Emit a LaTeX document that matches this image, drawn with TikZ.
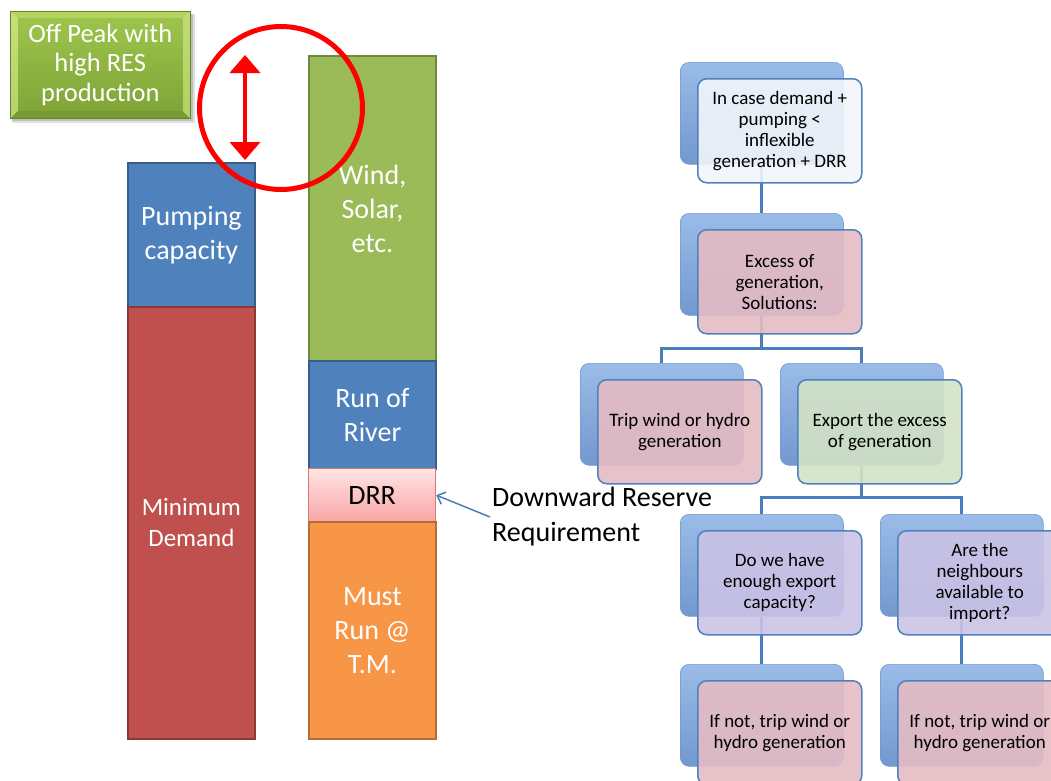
\documentclass[tikz,border=0pt]{standalone}
\usepackage{fontspec}
\setmainfont{Carlito}
\usetikzlibrary{arrows.meta,calc}
\pgfdeclarelayer{background}
\pgfsetlayers{background,main}

% bar colours
\definecolor{blueF}{HTML}{4F81BD}
\definecolor{blueD}{HTML}{385D8A}
\definecolor{redF}{HTML}{C0504D}
\definecolor{redD}{HTML}{8C3836}
\definecolor{greenF}{HTML}{9BBB59}
\definecolor{greenD}{HTML}{71893F}
\definecolor{orangeF}{HTML}{F79646}
\definecolor{orangeD}{HTML}{B66D31}
\definecolor{drrTop}{HTML}{FFE4E4}
\definecolor{drrBot}{HTML}{F9A6A6}
\definecolor{drrLine}{HTML}{DC7777}
% label box bevel
\definecolor{opTopBand}{HTML}{B3D45E}
\definecolor{opLeftBand}{HTML}{C6E07A}
\definecolor{opRightBand}{HTML}{C0DC72}
\definecolor{opBotBand}{HTML}{789A32}
\definecolor{opInTop}{HTML}{9CC44C}
\definecolor{opInBot}{HTML}{80A638}
% flow chart
\definecolor{bkTop}{HTML}{9ABCE8}
\definecolor{bkBot}{HTML}{7398CE}
\definecolor{bkLine}{HTML}{7398CE}
\definecolor{frLine}{HTML}{4F81BD}
\definecolor{lnk}{HTML}{4A7EBB}
\definecolor{fWhite}{HTML}{F2F6FB}
\definecolor{fPink}{HTML}{E5BBC3}
\definecolor{fGreen}{HTML}{D3E2C6}
\definecolor{fLav}{HTML}{CBC3E6}
\definecolor{ringRed}{HTML}{FF0000}

\begin{document}
\begin{tikzpicture}[x=1pt,y=-1pt,
  bar/.style={draw, line width=1.8pt, minimum width=127pt, anchor=north west,
    inner sep=0pt, align=center, text=white, font=\fontsize{28}{34}\selectfont},
  backbox/.style={rounded corners=9pt, minimum width=163pt, minimum height=102pt,
    anchor=north west, inner sep=0pt, top color=bkTop, bottom color=bkBot,
    draw=bkLine, line width=0.6pt},
  frontbox/.style={rounded corners=9pt, minimum width=164pt, minimum height=104pt,
    anchor=north west, inner sep=2pt, draw=frLine, line width=1.5pt,
    fill opacity=0.9, text opacity=1, align=center,
    font=\fontsize{19}{21}\selectfont, text=black},
  link/.style={draw=lnk, line width=3pt},
]
\useasboundingbox (0,0) rectangle (1051,780);

% ---- label box with bevel and shadow
\fill[black, opacity=0.12] (12,14) rectangle (195,123);
\fill[black, opacity=0.15] (12,14) rectangle (193,121);
\node[anchor=north west, minimum width=180pt, minimum height=107pt, inner sep=0pt,
  draw=opBotBand!85!black, line width=0.6pt,
  path picture={
    \coordinate (pA) at (path picture bounding box.north west);
    \coordinate (pB) at (path picture bounding box.north east);
    \coordinate (pC) at (path picture bounding box.south east);
    \coordinate (pD) at (path picture bounding box.south west);
    \coordinate (qA) at ($(pA)+(8pt,-7pt)$);
    \coordinate (qB) at ($(pB)+(-8pt,-7pt)$);
    \coordinate (qC) at ($(pC)+(-8pt,8pt)$);
    \coordinate (qD) at ($(pD)+(8pt,8pt)$);
    \fill[opTopBand] (pA) -- (pB) -- (qB) -- (qA) -- cycle;
    \fill[opBotBand] (pD) -- (pC) -- (qC) -- (qD) -- cycle;
    \shade[top color=opLeftBand, bottom color=opLeftBand!80!opBotBand]
      (pA) -- (qA) -- (qD) -- (pD) -- cycle;
    \shade[top color=opRightBand, bottom color=opRightBand!80!opBotBand]
      (pB) -- (qB) -- (qC) -- (pC) -- cycle;
    \shade[top color=opInTop, bottom color=opInBot] (qA) rectangle (qC);
  },
  align=center, text=white, font=\fontsize{26.5}{29.5}\selectfont]
  (offpk) at (10,11) {Off Peak with\\high RES\\production};

% ---- left bar
\node[bar, fill=blueF, draw=blueD, minimum height=144pt] (pump) at (127,162) {Pumping\\capacity};
\node[bar, fill=redF, draw=redD, minimum height=432pt,
  font=\fontsize{25}{31}\selectfont] (mindem) at (127,306) {Minimum\\Demand};

% ---- right bar
\node[bar, fill=greenF, draw=greenD, minimum height=305pt] (wind) at (308,55) {Wind,\\Solar,\\etc.};
\node[bar, fill=blueF, draw=blueD, minimum height=108pt] (ror) at (308,360) {Run of\\River};
\node[bar, top color=drrTop, bottom color=drrBot, draw=drrLine, line width=1.2pt,
  minimum height=53pt, text=black] (drr) at (308,468) {DRR};
\node[bar, fill=orangeF, draw=orangeD, minimum height=217pt] (must) at (308,521) {Must\\Run @\\T.M.};

% ---- headroom marker
\node[circle, draw=ringRed, line width=5pt, minimum size=163pt, inner sep=0pt] (ring) at (281,108) {};
\coordinate (gapTop) at (245,55);
\coordinate (gapBot) at (245,160);
\draw[ringRed, line width=4pt, {Triangle[width=30pt,length=18pt]}-{Triangle[width=30pt,length=18pt]}]
  (gapTop) -- (gapBot);

% ---- reserve annotation
\node[anchor=west, inner sep=0pt, align=left, font=\fontsize{28}{35}\selectfont]
  (drtext) at (492,517) {Downward Reserve\\Requirement};
\draw[lnk, line width=1.5pt, -{Straight Barb[length=7pt,width=13pt]}]
  ($(drtext.west)+(-2,0)$) -- (drr.east);

% ---- decision tree: back plates
\node[backbox] (b1) at (680,62) {};
\node[backbox] (b2) at (680,213) {};
\node[backbox] (b3) at (580,363) {};
\node[backbox] (b4) at (780,363) {};
\node[backbox] (b5) at (680,514) {};
\node[backbox] (b6) at (880,514) {};
\node[backbox] (b7) at (680,664) {};
\node[backbox] (b8) at (880,664) {};

% ---- decision tree: front cards
\node[frontbox, fill=fWhite] (f1) at (697,78) {In case demand +\\pumping <\\inflexible\\generation + DRR};
\node[frontbox, fill=fPink] (f2) at (697,229) {Excess of\\generation,\\Solutions:};
\node[frontbox, fill=fPink] (f3) at (597,379) {Trip wind or hydro\\generation};
\node[frontbox, fill=fGreen] (f4) at (797,379) {Export the excess\\of generation};
\node[frontbox, fill=fLav] (f5) at (697,530) {Do we have\\enough export\\capacity?};
\node[frontbox, fill=fLav] (f6) at (897,530) {Are the\\neighbours\\available to\\import?};
\node[frontbox, fill=fPink] (f7) at (697,680) {If not, trip wind or\\hydro generation};
\node[frontbox, fill=fPink] (f8) at (897,680) {If not, trip wind or\\hydro generation};

% ---- decision tree: connectors, behind the cards
\begin{pgfonlayer}{background}
  \draw[link] (b1.south) -- (b2.north);
  \coordinate (j2) at ($(b2.south)+(0,33)$);
  \draw[link] (b2.south) -- (j2);
  \draw[link] (b3.north) |- (j2) -| (b4.north);
  \coordinate (j4) at ($(b4.south)+(0,32)$);
  \draw[link] (b4.south) -- (j4);
  \draw[link] (b5.north) |- (j4) -| (b6.north);
  \draw[link] (b5.south) -- (b7.north);
  \draw[link] (b6.south) -- (b8.north);
\end{pgfonlayer}
\end{tikzpicture}
\end{document}
